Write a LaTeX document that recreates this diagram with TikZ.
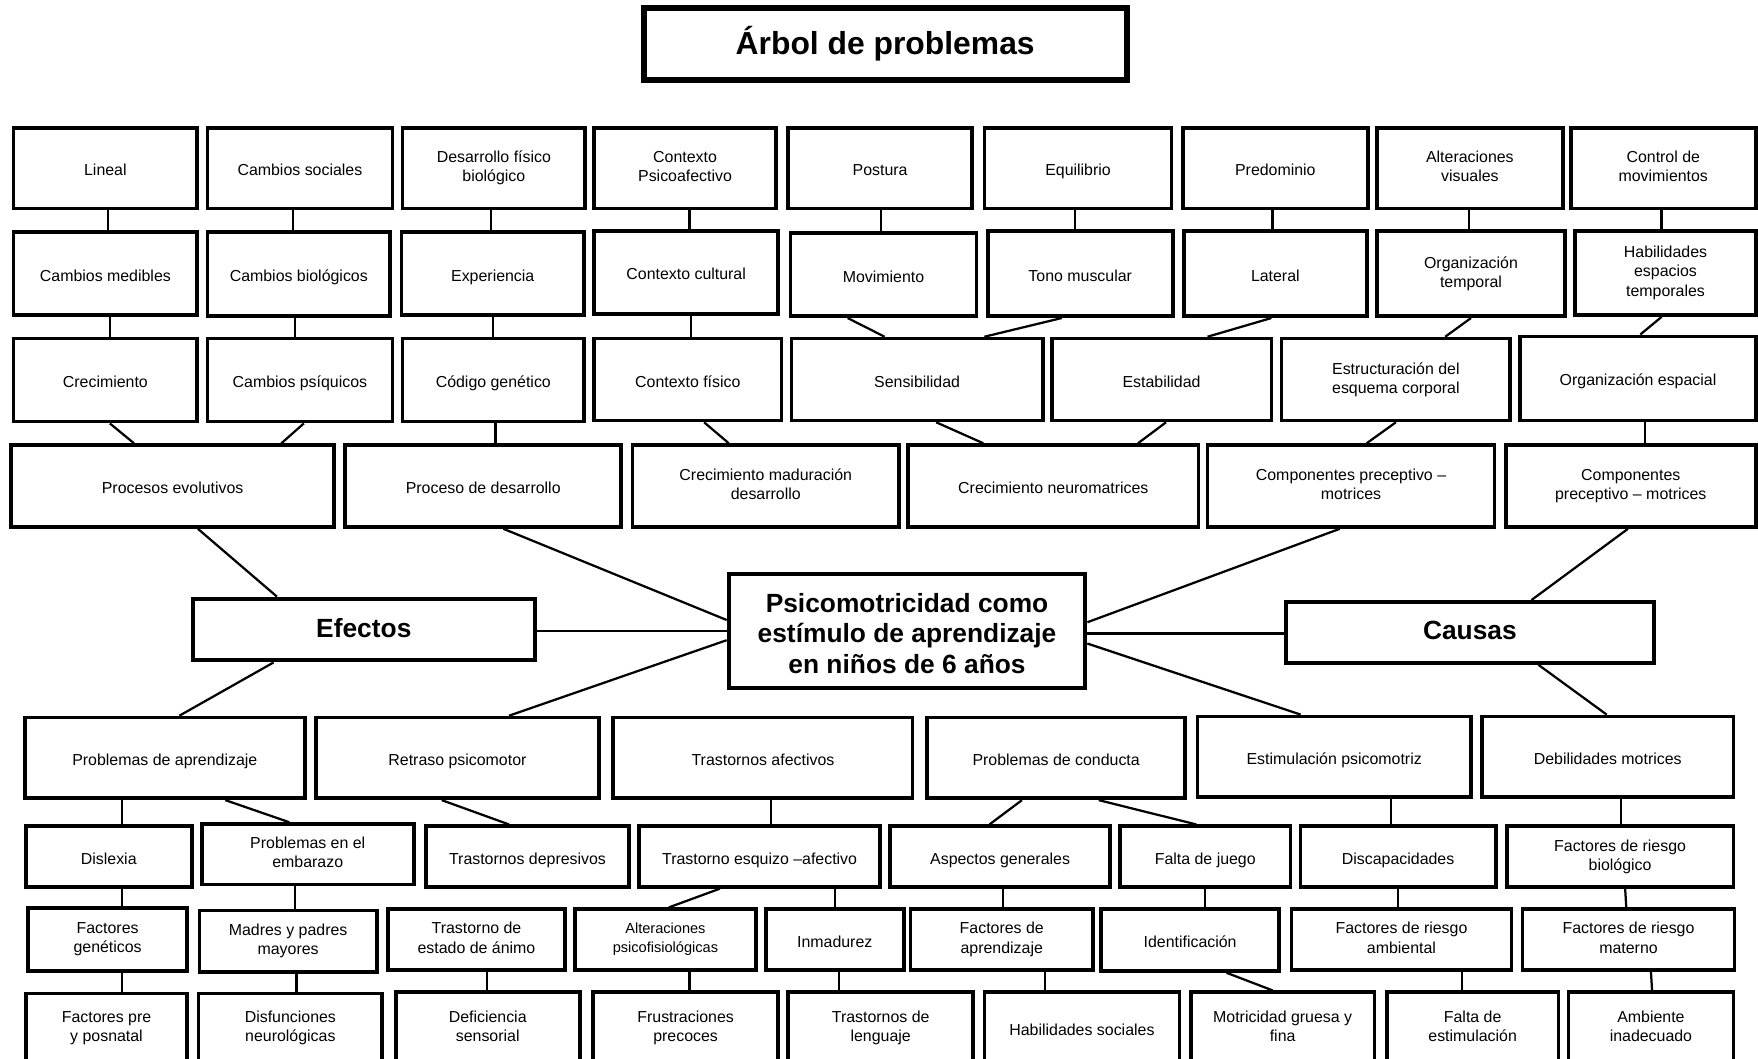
\documentclass[tikz,border=0pt]{standalone}
\usepackage{fontspec}
\setmainfont{Liberation Sans}
\usetikzlibrary{calc}
\newcommand\topfix{\rule{0pt}{16.6pt}}
\newcommand\botfix{\rule[-3.2pt]{0pt}{3.2pt}}
\tikzset{
  box/.style={draw, line width=3.3pt, align=center, inner sep=0pt, fill=white,
    font=\fontsize{14.2pt}{17pt}\selectfont,
    execute at begin node=\topfix, execute at end node=\botfix},
  smallbox/.style={font=\fontsize{13pt}{16.4pt}\selectfont},
  bigbox/.style={line width=3.7pt, font=\bfseries\fontsize{23.5pt}{27pt}\selectfont,
    execute at begin node={}, execute at end node={}},
  titlebox/.style={line width=5.4pt, font=\bfseries\fontsize{28.4pt}{34pt}\selectfont,
    execute at begin node={}, execute at end node={}},
  conn/.style={line width=2pt},
}
\newcommand\mybox[7][]{\node[box,#1,minimum width={(#5-#3)*1pt},minimum height={(#6-#4)*1pt}] (#2) at ({(#3+#5)/2},{(#4+#6)/2}) {#7};}
\newcommand\linkv[4]{\draw[conn] (#1.south -| #2,0) -- (#3.north -| #4,0);}
\begin{document}
\begin{tikzpicture}[x=1pt,y=-1pt]
\useasboundingbox (0,0) rectangle (1568,944);
\fill[white] (0,0) rectangle (1568,944);
\clip (0,0) rectangle (1568,944);

% title
\mybox[titlebox]{title}{574}{7}{1005}{71}{Árbol de problemas}

% row 1
\mybox{La}{12}{114}{176}{186}{Lineal}
\mybox{Lb}{185}{114}{350}{186}{Cambios sociales}
\mybox{Lc}{359}{114}{522}{186}{Desarrollo físico\\biológico}
\mybox{Ld}{530}{114}{692}{186}{Contexto\\Psicoafectivo}
\mybox{Le}{703}{114}{867}{186}{Postura}
\mybox{Lf}{878}{114}{1045}{186}{Equilibrio}
\mybox{Lg}{1055}{114}{1220}{186}{Predominio}
\mybox{Lh}{1228}{114}{1394}{186}{Alteraciones\\visuales}
\mybox{Li}{1401}{114}{1566}{186}{Control de\\movimientos}

% row 2
\mybox{Ma}{12}{207}{176}{281}{Cambios medibles}
\mybox{Mb}{185}{207}{348}{282}{Cambios biológicos}
\mybox{Mc}{358}{207}{521}{281}{Experiencia}
\mybox{Md}{530}{206}{694}{280}{Contexto cultural}
\mybox{Me}{705}{208}{871}{282}{Movimiento}
\mybox{Mf}{881}{206}{1046}{282}{Tono muscular}
\mybox{Mg}{1056}{206}{1219}{282}{Lateral}
\mybox{Mh}{1228}{206}{1396}{282}{Organización\\temporal}
\mybox{Mi}{1405}{206}{1566}{281}{Habilidades\\espacios\\temporales}

% row 3
\mybox{Na}{12}{302}{176}{376}{Crecimiento}
\mybox{Nb}{185}{302}{350}{376}{Cambios psíquicos}
\mybox{Nc}{359}{302}{521}{376}{Código genético}
\mybox{Nd}{530}{302}{697}{375}{Contexto físico}
\mybox{Ne}{706}{302}{930}{375}{Sensibilidad}
\mybox{Nf}{938}{302}{1134}{375}{Estabilidad}
\mybox{Ng}{1143}{302}{1347}{375}{Estructuración del\\esquema corporal}
\mybox{Nh}{1356}{300}{1566}{375}{Organización espacial}

% row 4
\mybox{Pa}{10}{397}{298}{470}{Procesos evolutivos}
\mybox{Pb}{308}{397}{554}{470}{Proceso de desarrollo}
\mybox{Pc}{564}{397}{802}{470}{Crecimiento maduración\\desarrollo}
\mybox{Pd}{810}{397}{1069}{470}{Crecimiento neuromatrices}
\mybox{Pe}{1077}{397}{1333}{470}{Componentes preceptivo –\\motrices}
\mybox{Pf}{1343}{397}{1566}{470}{Componentes\\preceptivo – motrices}

% middle
\mybox[bigbox]{center}{650}{512}{968}{614}{\rule{0pt}{24pt}Psicomotricidad como\\estímulo de aprendizaje\\en niños de 6 años}
\mybox[bigbox]{efectos}{172}{534}{477}{589}{Efectos}
\mybox[bigbox]{causas}{1147}{537}{1475}{591}{Causas}

% bottom row 1
\mybox{Qa}{22}{640}{272}{712}{Problemas de aprendizaje}
\mybox{Qb}{282}{640}{534}{712}{Retraso psicomotor}
\mybox{Qc}{547}{640}{814}{712}{Trastornos afectivos}
\mybox{Qd}{827}{640}{1057}{712}{Problemas de conducta}
\mybox{Qe}{1068}{639}{1312}{711}{Estimulación psicomotriz}
\mybox{Qf}{1322}{639}{1546}{711}{Debilidades motrices}

% bottom row 2
\mybox{Ra}{23}{737}{171}{791}{Dislexia}
\mybox{Rb}{180}{735}{369}{789}{Problemas en el\\embarazo}
\mybox{Rc}{380}{737}{561}{791}{Trastornos depresivos}
\mybox{Rd}{570}{737}{785}{791}{Trastorno esquizo –afectivo}
\mybox{Re}{794}{737}{990}{791}{Aspectos generales}
\mybox{Rf}{999}{737}{1151}{791}{Falta de juego}
\mybox{Rg}{1160}{737}{1334}{791}{Discapacidades}
\mybox{Rh}{1344}{737}{1546}{791}{Factores de riesgo\\biológico}

% bottom row 3
\mybox{Sa}{25}{810}{167}{866}{Factores\\genéticos}
\mybox{Sb}{178}{812}{336}{867}{Madres y padres\\mayores}
\mybox{Sc}{346}{811}{504}{865}{Trastorno de\\estado de ánimo}
\mybox[smallbox]{Sd}{513}{811}{674}{865}{Alteraciones\\psicofisiológicas}
\mybox{Se}{683}{811}{806}{865}{Inmadurez}
\mybox{Sf}{812}{811}{975}{865}{Factores de\\aprendizaje}
\mybox{Sg}{982}{811}{1141}{866}{Identificación}
\mybox{Sh}{1152}{811}{1348}{865}{Factores de riesgo\\ambiental}
\mybox{Si}{1358}{811}{1547}{865}{Factores de riesgo\\materno}

% bottom row 4
\mybox{Ta}{23}{886}{167}{948}{Factores pre\\y posnatal}
\mybox{Tb}{177}{886}{341}{948}{Disfunciones\\neurológicas}
\mybox{Tc}{353}{885}{517}{948}{Deficiencia\\sensorial}
\mybox{Td}{529}{885}{694}{948}{Frustraciones\\precoces}
\mybox{Te}{703}{885}{868}{948}{Trastornos de\\lenguaje}
\mybox{Tf}{878}{885}{1052}{948}{Habilidades sociales}
\mybox{Tg}{1062}{885}{1226}{948}{Motricidad gruesa y\\fina}
\mybox{Th}{1237}{885}{1390}{948}{Falta de\\estimulación}
\mybox{Ti}{1399}{885}{1546}{948}{Ambiente\\inadecuado}

% connectors top
\linkv{La}{96}{Ma}{96}
\linkv{Lb}{261}{Mb}{261}
\linkv{Lc}{438}{Mc}{438}
\linkv{Ld}{615}{Md}{615}
\linkv{Le}{786}{Me}{786}
\linkv{Lf}{959}{Mf}{959}
\linkv{Lg}{1135}{Mg}{1135}
\linkv{Lh}{1310}{Mh}{1310}
\linkv{Li}{1482}{Mi}{1482}
\linkv{Ma}{98}{Na}{98}
\linkv{Mb}{263}{Nb}{263}
\linkv{Mc}{440}{Nc}{440}
\linkv{Md}{616}{Nd}{616}
\linkv{Me}{756}{Ne}{789}
\linkv{Mf}{947}{Ne}{878}
\linkv{Mg}{1134}{Nf}{1077}
\linkv{Mh}{1312}{Ng}{1289}
\linkv{Mi}{1482}{Nh}{1463}
\linkv{Na}{98}{Pa}{119.5}
\linkv{Nb}{271}{Pa}{251}
\linkv{Nc}{442}{Pb}{442}
\linkv{Nd}{628}{Pc}{650}
\linkv{Ne}{835}{Pd}{877}
\linkv{Nf}{1040}{Pd}{1015}
\linkv{Ng}{1245}{Pe}{1219}
\linkv{Nh}{1467.5}{Pf}{1467.5}

% connectors middle
\linkv{Pa}{176.5}{efectos}{247}
\draw[conn] (Pb.south -| 449,0) -- (center.west |- 0,553);
\draw[conn] (efectos.east |- 0,562.5) -- (center.west |- 0,562.5);
\draw[conn] (center.west |- 0,571) -- (Qb.north -| 454,0);
\linkv{efectos}{244}{Qa}{160}
\draw[conn] (Pe.south -| 1195,0) -- (center.east |- 0,555);
\draw[conn] (center.east |- 0,565) -- (causas.west |- 0,565);
\draw[conn] (center.east |- 0,574) -- (Qe.north -| 1160,0);
\draw[conn] (Pf.south -| 1452,0) -- (causas.north -| 1366,0);
\linkv{causas}{1372}{Qf}{1433}

% connectors bottom
\linkv{Qa}{109}{Ra}{109}
\linkv{Qa}{201}{Rb}{258}
\linkv{Qb}{394}{Rc}{454}
\linkv{Qc}{688}{Rd}{688}
\linkv{Qd}{911.5}{Re}{882.5}
\linkv{Qd}{980}{Rf}{1067}
\linkv{Qe}{1240.5}{Rg}{1240.5}
\linkv{Qf}{1446}{Rh}{1446}
\linkv{Ra}{109}{Sa}{109}
\linkv{Rb}{263}{Sb}{263}
\linkv{Rd}{642}{Sd}{596.5}
\linkv{Rd}{745}{Se}{745}
\linkv{Re}{894.5}{Sf}{894.5}
\linkv{Rf}{1075}{Sg}{1075}
\linkv{Rg}{1247}{Sh}{1247}
\linkv{Rh}{1449.5}{Si}{1450.5}
\linkv{Sa}{109}{Ta}{109}
\linkv{Sb}{264.5}{Tb}{264.5}
\linkv{Sc}{434.5}{Tc}{434.5}
\linkv{Sd}{615}{Td}{615}
\linkv{Se}{748}{Te}{748}
\linkv{Sf}{932}{Tf}{932}
\linkv{Sg}{1094}{Tg}{1135}
\linkv{Sh}{1304}{Th}{1304}
\linkv{Si}{1472.5}{Ti}{1473.5}
\end{tikzpicture}
\end{document}
